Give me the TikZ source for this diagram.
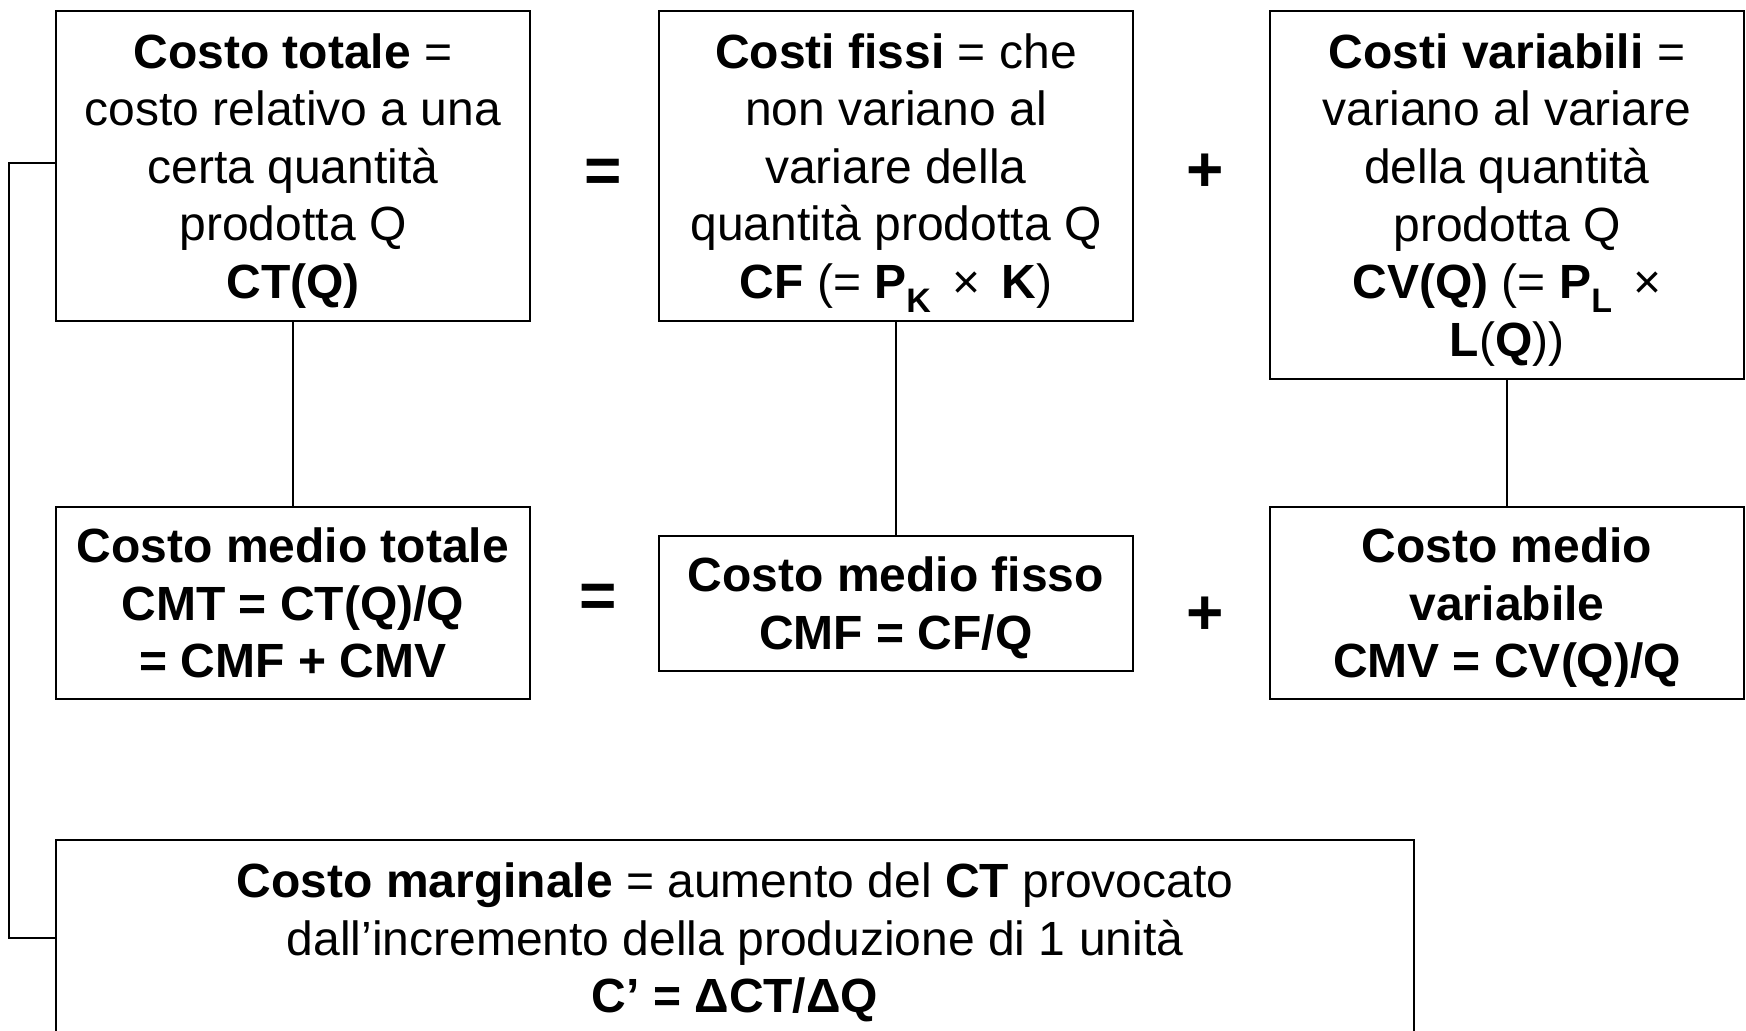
\documentclass[tikz,border=0pt]{standalone}
\usepackage{fontspec}
\setmainfont{Liberation Sans}
\begin{document}
\begin{tikzpicture}[x=0.5pt,y=-0.5pt,
  box/.style={draw, line width=1pt, align=center, inner sep=0pt, text depth=0pt,
    minimum width=237pt, font=\fontsize{24}{28.8}\selectfont},
  conn/.style={line width=0.8pt},
  oper/.style={inner sep=0pt, font=\fontsize{32}{32}\selectfont\bfseries}]
\newcommand{\lowsub}[1]{\raisebox{-0.28em}{\fontsize{17}{17}\selectfont\bfseries #1}}
\useasboundingbox (0,0) rectangle (1746,1031);

\node[box, minimum height=155pt] (ct) at (293,166)
  {\textbf{Costo totale} =\\ costo relativo a una\\ certa quantità\\ prodotta Q\\ \textbf{CT(Q)}};
\node[box, minimum height=155pt] (cf) at (896,166)
  {\textbf{Costi fissi} = che\\ non variano al\\ variare della\\ quantità prodotta Q\\ \textbf{CF} (= \textbf{P}\lowsub{K} \,× \,\textbf{K})};
\node[box, minimum height=183.8pt] (cv) at (1507,195)
  {\textbf{Costi variabili} =\\ variano al variare\\ della quantità\\ prodotta Q\\ \textbf{CV(Q)} (= \textbf{P}\lowsub{L} \,×\\ \textbf{L}(\textbf{Q}))};

\node[box, minimum height=96.2pt] (cmt) at (293,603)
  {\textbf{Costo medio totale}\\ \textbf{CMT = CT(Q)/Q}\\ \textbf{= CMF + CMV}};
\node[box, minimum height=67.7pt] (cmf) at (896,603.3)
  {\textbf{Costo medio fisso}\\ \textbf{CMF = CF/Q}};
\node[box, minimum height=96.2pt] (cmv) at (1507,603)
  {\textbf{Costo medio}\\ \textbf{variabile}\\ \textbf{CMV = CV(Q)/Q}};

\node[box, minimum width=678.75pt, minimum height=98pt] (cm) at (735,938)
  {\textbf{Costo marginale} = aumento del \textbf{CT} provocato\\ dall’incremento della produzione di 1 unità\\ \textbf{C’ = ΔCT/ΔQ}};

\node[oper] (eq1) at (603,176) {=};
\node[oper] (pl1) at (1205,173) {+};
\node[oper] (eq2) at (598,601) {=};
\node[oper] (pl2) at (1205,616) {+};

\draw[conn] (ct.south) -- (cmt.north);
\draw[conn] (cf.south) -- (cmf.north);
\draw[conn] (cv.south) -- (cmv.north);
\coordinate (lb) at (9,163);
\draw[line width=1pt] (ct.west |- lb) -- (lb) |- (cm.west);
\end{tikzpicture}
\end{document}
